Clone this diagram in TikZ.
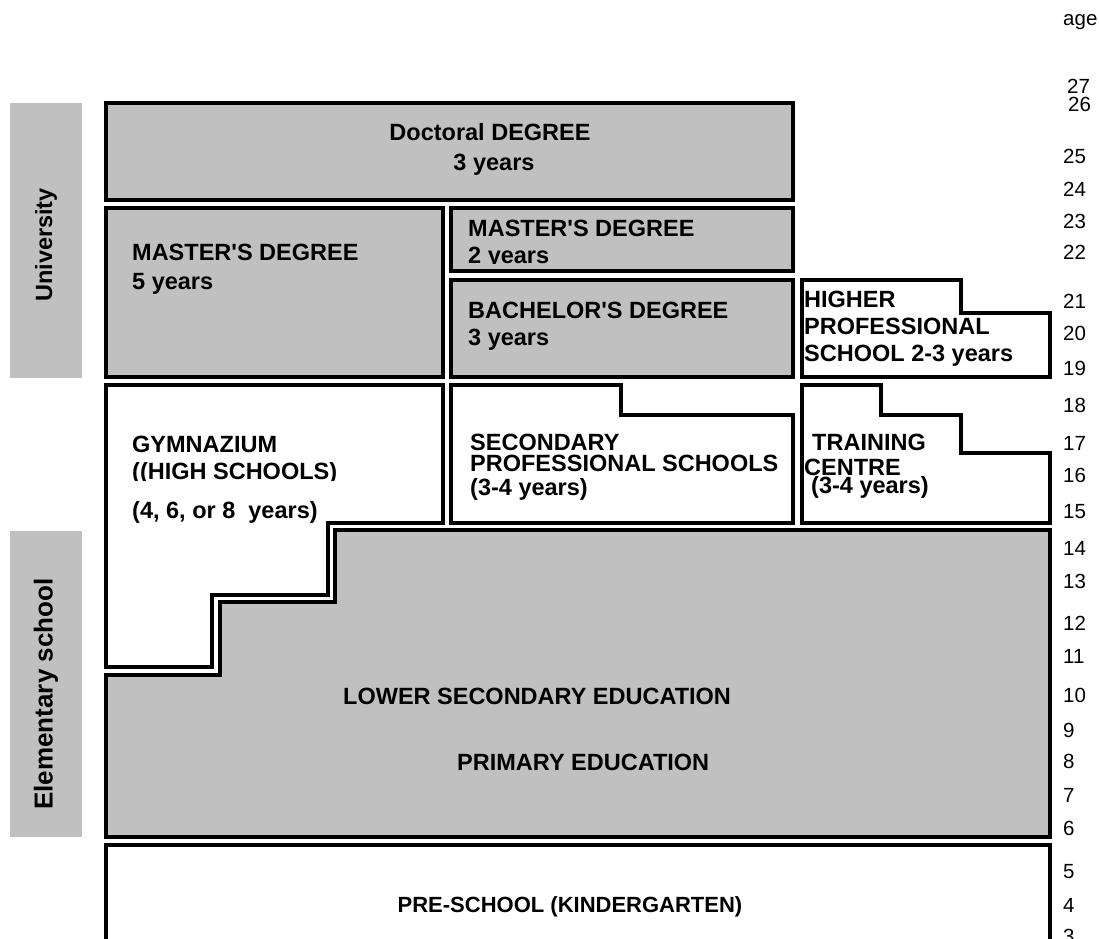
\documentclass[tikz,border=0pt]{standalone}
\usepackage{fontspec}
\setmainfont{Liberation Sans}
\definecolor{silverg}{HTML}{C0C0C0}
\newcommand{\ap}{\textquotesingle}
\begin{document}
\begin{tikzpicture}[x=1pt,y=-1pt,
  box/.style={draw=black, line width=3.3pt, line join=miter},
  gbox/.style={box, fill=silverg},
  side/.style={fill=silverg, draw=none},
  lbl/.style={font=\fontsize{23.5}{28}\selectfont\bfseries, anchor=base west, inner sep=0pt},
  clbl/.style={lbl, anchor=base},
  sidelbl/.style={font=\fontsize{23.5}{28}\selectfont\bfseries, rotate=90, inner sep=0pt},
  agelbl/.style={font=\fontsize{20.5}{24}\selectfont, anchor=base west, inner sep=0pt}]
\clip (0,0) rectangle (1099,938);
\fill[white] (0,0) rectangle (1099,938);

% side labels
\path[side] (10,103) rectangle (82,378);
\node[sidelbl] (uni) at (46,245) {University};
\path[side] (10,531) rectangle (82,837);
\node[sidelbl, font=\fontsize{26}{30}\selectfont\bfseries] (elem) at (46,694) {Elementary school};

% boxes
\draw[gbox] (106,103) rectangle (793,200);
\draw[gbox] (106,208) rectangle (443,377);
\draw[gbox] (451,208) rectangle (793,271);
\draw[gbox] (451,280) rectangle (793,377);
\draw[box] (802,280) -- (961,280) -- (961,313) -- (1050,313) -- (1050,377) -- (802,377) -- cycle;
\draw[box] (106,385) -- (443,385) -- (443,523) -- (328,523) -- (328,595) -- (212,595) -- (212,667) -- (106,667) -- cycle;
\draw[box] (451,385) -- (621,385) -- (621,415) -- (793,415) -- (793,523) -- (451,523) -- cycle;
\draw[box] (802,385) -- (881,385) -- (881,415) -- (961,415) -- (961,453) -- (1050,453) -- (1050,523) -- (802,523) -- cycle;
\draw[gbox] (335,530) -- (1050,530) -- (1050,837) -- (106,837) -- (106,675) -- (220,675) -- (220,602) -- (335,602) -- cycle;
\draw[box] (106,960) -- (106,845) -- (1050,845) -- (1050,960);

% texts
\node[clbl] (doc1) at (490,140) {Doctoral DEGREE};
\node[clbl] (doc2) at (494,170) {3 years};
\node[lbl] (m51) at (132,260) {MASTER\ap S DEGREE};
\node[lbl] (m52) at (132,289) {5 years};
\node[lbl] (m21) at (468,236) {MASTER\ap S DEGREE};
\begin{scope}
\clip (451,240) rectangle (793,263.5);
\node[lbl] (m22) at (468,263) {2 years};
\end{scope}
\node[lbl] (b1) at (468,318) {BACHELOR\ap S DEGREE};
\node[lbl] (b2) at (468,345) {3 years};
\node[lbl] (h1) at (804,307) {HIGHER};
\node[lbl] (h2) at (804,334) {PROFESSIONAL};
\node[lbl] (h3) at (804,361) {SCHOOL 2-3 years};
\node[lbl] (g1) at (132,452) {GYMNAZIUM};
\begin{scope}
\clip (110,455) rectangle (440,480.5);
\node[lbl] (g2) at (132,479.5) {((HIGH SCHOOLS)};
\end{scope}
\node[lbl] (g3) at (132,518) {(4, 6, or 8~ years)};
\node[lbl] (s1) at (470,450) {SECONDARY};
\node[lbl] (s2) at (470,471) {PROFESSIONAL SCHOOLS};
\node[lbl] (s3) at (470,495) {(3-4 years)};
\node[lbl] (t1) at (812,450) {TRAINING};
\node[lbl] (t2) at (804,475) {CENTRE};
\node[lbl] (t3) at (811,493) {(3-4 years)};
\node[lbl] (lse) at (343,704) {LOWER SECONDARY EDUCATION};
\node[lbl] (pe) at (457,770) {PRIMARY EDUCATION};
\node[clbl, font=\fontsize{22}{26}\selectfont\bfseries] (ps) at (570,912) {PRE-SCHOOL (KINDERGARTEN)};

% ages
\node[agelbl] (age) at (1063,25) {age};
\node[agelbl] (a27) at (1067,93.5) {27};
\node[agelbl] (a26) at (1068,111.5) {26};
\node[agelbl] (a25) at (1063,163) {25};
\node[agelbl] (a24) at (1063,196.5) {24};
\node[agelbl] (a23) at (1063,228.5) {23};
\node[agelbl] (a22) at (1063,259.5) {22};
\node[agelbl] (a21) at (1063,308) {21};
\node[agelbl] (a20) at (1063,340) {20};
\node[agelbl] (a19) at (1063,375) {19};
\node[agelbl] (a18) at (1063,412) {18};
\node[agelbl] (a17) at (1063,450) {17};
\node[agelbl] (a16) at (1063,482) {16};
\node[agelbl] (a15) at (1063,518) {15};
\node[agelbl] (a14) at (1063,555) {14};
\node[agelbl] (a13) at (1063,588) {13};
\node[agelbl] (a12) at (1063,630) {12};
\node[agelbl] (a11) at (1063,663) {11};
\node[agelbl] (a10) at (1063,702) {10};
\node[agelbl] (a9) at (1063,737) {9};
\node[agelbl] (a8) at (1063,768) {8};
\node[agelbl] (a7) at (1063,802) {7};
\node[agelbl] (a6) at (1063,835) {6};
\node[agelbl] (a5) at (1063,878) {5};
\node[agelbl] (a4) at (1063,912) {4};
\node[agelbl] (a3) at (1063,943) {3};
\end{tikzpicture}
\end{document}
